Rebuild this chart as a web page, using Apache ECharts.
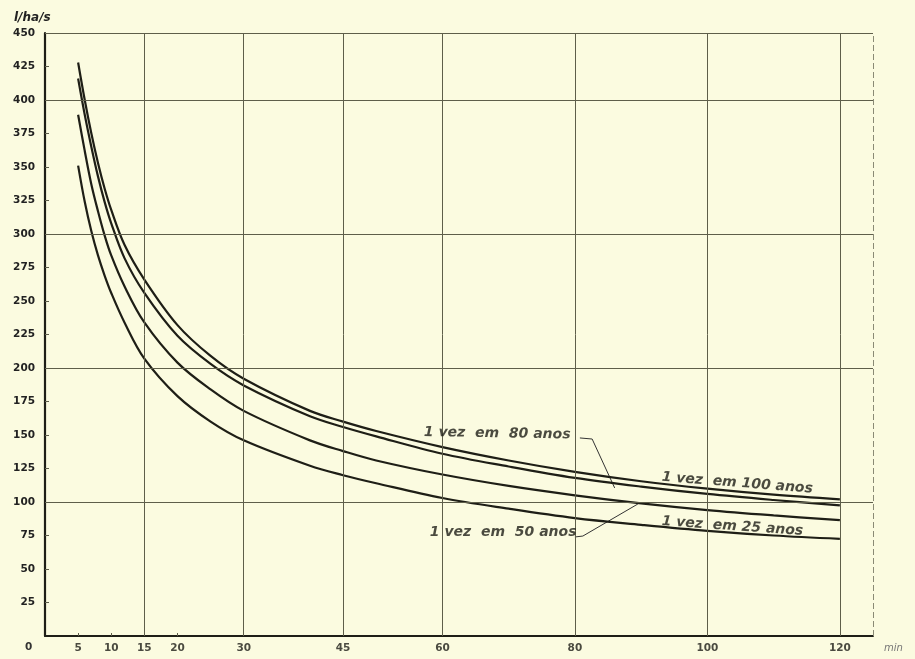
<!DOCTYPE html>
<html><head><meta charset="utf-8">
<script src="https://cdn.jsdelivr.net/npm/echarts@6/dist/echarts.min.js"></script>
<style>html,body{margin:0;padding:0;background:#fbfbe0}#c{width:915px;height:659px}</style>
</head><body><div id="c"></div><script>
// Duration (min)
const times = [5, 6, 7, 8, 9, 10, 12, 15, 20, 25, 30, 40, 45, 50, 60, 70, 80, 90, 100, 110, 120];
// Intensity (l/ha/s) per return period
const y100 = [428, 400, 375, 353, 334, 318, 292, 266, 232, 209, 192, 168, 160, 153, 141, 131, 122.5, 115.5, 110, 105.5, 102];
const y80  = [416, 389, 365, 343, 324, 308, 282, 256, 224, 203, 187, 164, 156, 149, 136, 126.5, 118, 111.5, 106, 101.5, 97.5];
const y50  = [389, 362, 337, 317, 299, 284, 261, 234, 204, 184, 168, 146, 138, 131, 120.5, 112, 105, 99, 94, 90, 86.5];
const y25  = [351, 324, 302, 284, 269, 256, 234, 207, 179, 160, 146, 127, 120, 114, 103, 95, 88, 83, 78.5, 75, 72.5];
const seriesNames = ['1 vez em 100 anos', '1 vez em 80 anos', '1 vez em 50 anos', '1 vez em 25 anos'];
const seriesValues = [y100, y80, y50, y25];
const xTickLabels = [5, 10, 15, 20, 30, 45, 60, 80, 100, 120];
const xGridValues = [15, 30, 45, 60, 80, 100, 120];
const yGridValues = [100, 200, 300, 400, 450];
const annotationTexts = ['1 vez  em  80 anos', '1 vez  em 100 anos', '1 vez  em  50 anos', '1 vez  em 25 anos'];
const annotationAt = [[57.2, 152], [93.1, 118.5], [58.1, 77.5], [93.1, 85.5]];
const annotationRotate = [-1, -4.5, 0, -4];
const leader80 = [[80.75, 147.8], [82.6, 147], [86, 110.5]];
const leader50 = [[80, 73.9], [81.2, 74.6], [89.5, 98.5]];

const ink = '#1e1e16';
const gridInk = '#5e5e4a';
const chart = echarts.init(document.getElementById('c'), null, {renderer: 'canvas'});

const curveSeries = seriesNames.map((name, i) => ({
  name, type: 'line', smooth: 0.35, symbol: 'none', z: 4,
  lineStyle: {color: ink, width: 2.2},
  data: times.map((t, j) => [t, seriesValues[i][j]])
}));

const option = {
  backgroundColor: '#fbfbe0',
  animation: false,
  grid: {left: 45, right: 42, top: 33, bottom: 23},
  xAxis: {
    type: 'value', min: 0, max: 125,
    axisLine: {show: true, onZero: false, lineStyle: {color: ink, width: 2}},
    axisTick: {show: true, inside: true, length: 3, customValues: [5, 10, 20], lineStyle: {color: gridInk}},
    axisLabel: {customValues: xTickLabels, margin: 7, color: '#4a4a40', fontSize: 10.5, fontFamily: 'DejaVu Sans', fontWeight: 'bold'},
    splitLine: {show: false}
  },
  yAxis: {
    type: 'value', min: 0, max: 450, interval: 25,
    axisLine: {show: true, lineStyle: {color: ink, width: 2.2}},
    axisTick: {show: true, inside: true, length: 4, lineStyle: {color: gridInk}},
    axisLabel: {margin: 10, showMinLabel: false, color: '#222', fontSize: 10.5, fontFamily: 'DejaVu Sans', fontWeight: 'bold'},
    splitLine: {show: false}
  },
  graphic: [
    {type: 'text', left: 14, top: 12, style: {text: 'l/ha/s', fontSize: 12, fontStyle: 'italic', fontWeight: 'bold', fontFamily: 'DejaVu Sans', fill: '#222'}},
    {type: 'text', left: 25, top: 642, style: {text: '0', fontSize: 10.5, fontWeight: 'bold', fontFamily: 'DejaVu Sans', fill: '#333'}},
    {type: 'text', left: 884, top: 643, style: {text: 'min', fontSize: 10, fontStyle: 'italic', fontFamily: 'DejaVu Sans', fill: '#777'}}
  ],
  series: [
    {
      type: 'line', data: [], z: 1, silent: true,
      markLine: {
        silent: true, symbol: 'none', animation: false, label: {show: false},
        lineStyle: {color: gridInk, width: 1, type: 'solid'},
        data: xGridValues.map(v => ({xAxis: v}))
          .concat(yGridValues.map(v => ({yAxis: v})))
          .concat([{xAxis: 125, lineStyle: {type: [6, 3], color: '#8a8a75'}}])
      }
    },
    ...curveSeries,
    {type: 'line', data: leader80, symbol: 'none', z: 3, lineStyle: {color: '#333', width: 1}},
    {type: 'line', data: leader50, symbol: 'none', z: 3, lineStyle: {color: '#333', width: 1}},
    {
      type: 'scatter', symbolSize: 0, z: 5, silent: true,
      data: annotationAt.map((p, i) => ({
        value: p,
        label: {show: true, position: 'right', distance: 0, formatter: annotationTexts[i], rotate: annotationRotate[i],
          fontSize: 14, fontStyle: 'italic', fontWeight: 'bold', fontFamily: 'DejaVu Sans', color: '#1e1e16'}
      }))
    }
  ]
};
chart.setOption(option);
</script></body></html>
